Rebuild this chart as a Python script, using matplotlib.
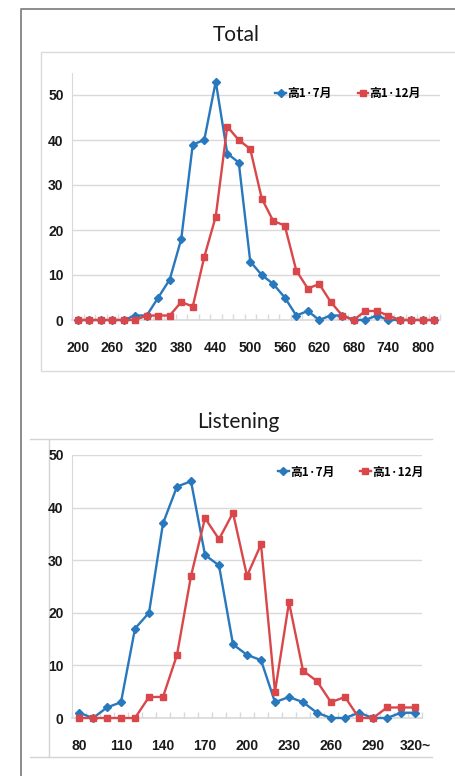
import numpy as np
import matplotlib.pyplot as plt
from matplotlib.lines import Line2D
from matplotlib.patches import Rectangle
import matplotlib.ticker as ticker

# ---- data ----
total_scores = list(range(200, 821, 20))
total_jul = [0, 0, 0, 0, 0, 1, 1, 5, 9, 18, 39, 40, 53, 37, 35, 13,
             10, 8, 5, 1, 2, 0, 1, 1, 0, 0, 1, 0, 0, 0, 0, 0]
total_dec = [0, 0, 0, 0, 0, 0, 1, 1, 1, 4, 3, 14, 23, 43, 40, 38,
             27, 22, 21, 11, 7, 8, 4, 1, 0, 2, 2, 1, 0, 0, 0, 0]
total_labels = [str(s) if i % 3 == 0 else "" for i, s in enumerate(total_scores)]

listen_scores = list(range(80, 321, 10))
listen_jul = [1, 0, 2, 3, 17, 20, 37, 44, 45, 31, 29, 14, 12, 11, 3, 4,
              3, 1, 0, 0, 1, 0, 0, 1, 1]
listen_dec = [0, 0, 0, 0, 0, 4, 4, 12, 27, 38, 34, 39, 27, 33, 5, 22,
              9, 7, 3, 4, 0, 0, 2, 2, 2]
listen_labels = [str(s) if i % 3 == 0 else "" for i, s in enumerate(listen_scores)]
listen_labels[-1] = "320~"

series_names = ["高1·7月", "高1·12月"]

W, H = 455, 776
BLUE = "#2878bd"
RED = "#d9474a"
GRID = "#d9d9d9"
tick_font = ["Liberation Sans", "DejaVu Sans"]
cjk_font = ["Noto Sans CJK JP", "DejaVu Sans"]


def px(x, y):
    # pixel coords (top-left origin) -> figure fraction
    return x / W, 1 - y / H


def axes_rect(x0, x1, y_top, y_bot):
    l, t = px(x0, y_top)
    r, b = px(x1, y_bot)
    return [l, b, r - l, t - b]


def line(fig, pts, color, lw):
    xs, ys = zip(*[px(x, y) for x, y in pts])
    fig.add_artist(Line2D(xs, ys, transform=fig.transFigure, color=color,
                          lw=lw, zorder=-1))


def draw_chart(ax, labels, jul, dec, ytop, legend_anchor):
    n = len(labels)
    idx = np.arange(n)
    ax.plot(idx, jul, color=BLUE, lw=1.7, marker="D", ms=4, clip_on=False,
            label=series_names[0], zorder=3)
    ax.plot(idx, dec, color=RED, lw=1.7, marker="s", ms=5, clip_on=False,
            label=series_names[1], zorder=4)

    ax.set_xlim(-0.5, n - 0.5)
    ax.set_ylim(0, ytop)
    ax.yaxis.set_major_locator(ticker.MultipleLocator(10))
    ax.grid(True, axis="y", color=GRID, lw=1.0)
    ax.set_axisbelow(True)

    # category labels, no marks; little inward marks between categories
    ax.set_xticks(idx)
    ax.set_xticklabels(labels)
    ax.set_xticks(np.arange(n + 1) - 0.5, minor=True)
    ax.tick_params(axis="x", which="major", length=0, pad=15)
    ax.tick_params(axis="x", which="minor", direction="in", length=4,
                   color=GRID, width=1)
    ax.tick_params(axis="y", length=0, pad=6)
    for lab in ax.get_xticklabels() + ax.get_yticklabels():
        lab.set_family(tick_font)
        lab.set_fontweight("bold")
        lab.set_fontsize(10)
        lab.set_color("#1a1a1a")

    for side in ["top", "right"]:
        ax.spines[side].set_visible(False)
    ax.spines["left"].set_color(GRID)
    ax.spines["bottom"].set_color(GRID)
    ax.spines["bottom"].set_linewidth(1.2)

    leg = ax.legend(loc="center left", bbox_to_anchor=legend_anchor, ncol=2,
                    frameon=False, handlelength=0.9, handletextpad=0.1,
                    columnspacing=2.2, borderaxespad=0,
                    prop={"family": cjk_font, "weight": "bold", "size": 8.5})
    return leg


fig = plt.figure(figsize=(W / 100, H / 100), dpi=100)

# ---- frames / panel borders ----
line(fig, [(21, 776), (21, 9), (455, 9)], "#8c8c8c", 1.4)
l, b = px(41, 371)
r, t = px(460, 52)
fig.add_artist(Rectangle((l, b), r - l, t - b, transform=fig.transFigure,
                         fill=False, edgecolor="#dadada", lw=1.0, zorder=-1))
line(fig, [(30, 439), (432, 439)], "#d4d4d4", 1.0)
line(fig, [(49, 439), (49, 757)], "#d4d4d4", 1.0)
line(fig, [(30, 757), (432, 757)], "#d4d4d4", 1.0)

# ---- titles ----
title_font = ["Lato", "DejaVu Sans"]
fig.text(*px(236, 35), "Total", ha="center", va="center", fontsize=15,
         family=title_font, color="#1a1a1a")
fig.text(*px(238, 422), "Listening", ha="center", va="center", fontsize=15,
         family=title_font, color="#1a1a1a")

# ---- top chart ----
ax1 = fig.add_axes(axes_rect(72, 440, 72.5, 320))
draw_chart(ax1, total_labels, total_jul, total_dec, 55, (0.54, 0.915))

# ---- bottom chart ----
ax2 = fig.add_axes(axes_rect(72, 422, 455, 718))
draw_chart(ax2, listen_labels, listen_jul, listen_dec, 50, (0.575, 0.935))

fig.savefig("out.png", dpi=100)
